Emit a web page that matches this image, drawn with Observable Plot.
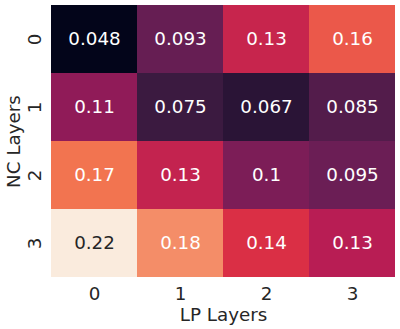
<!DOCTYPE html>
<html>
<head>
<meta charset="utf-8">
<script src="https://cdn.jsdelivr.net/npm/d3@7"></script>
<script src="https://cdn.jsdelivr.net/npm/@observablehq/plot@0.6"></script>
<style>
  html, body { margin: 0; padding: 0; background: #fff; }
</style>
</head>
<body>
<div id="chart"></div>
<script>
const lpLayers = ["0", "1", "2", "3"];
const ncLayers = ["0", "1", "2", "3"];
const row0 = [0.048, 0.093, 0.134, 0.160];
const row1 = [0.110, 0.075, 0.067, 0.085];
const row2 = [0.170, 0.132, 0.102, 0.095];
const row3 = [0.220, 0.180, 0.143, 0.127];
const rows = [row0, row1, row2, row3];

// seaborn "rocket" colormap stops
const rocket = ["#03051a", "#35193e", "#701f57", "#ad1759", "#e13342", "#f37651", "#f6b48f", "#faebdd"];

const data = [];
rows.forEach((r, i) => r.forEach((v, j) => data.push({nc: ncLayers[i], lp: lpLayers[j], v})));
const fmt = d3.format(".2~g");
const ext = d3.extent(data, d => d.v);
const fs = 18.3;

const chart = Plot.plot({
  width: 400,
  height: 329,
  marginLeft: 51,
  marginRight: 5,
  marginTop: 4,
  marginBottom: 51,
  style: {fontFamily: "DejaVu Sans", fontSize: fs + "px", color: "#262626", background: "#fff"},
  x: {domain: lpLayers, padding: 0, label: "LP Layers"},
  y: {domain: ncLayers, padding: 0, label: "NC Layers"},
  color: {type: "linear", domain: ext, interpolate: d3.piecewise(d3.interpolateRgb, rocket)},
  marks: [
    Plot.cell(data, {x: "lp", y: "nc", fill: "v", inset: 0}),
    Plot.text(data, {x: "lp", y: "nc", text: d => fmt(d.v), fill: d => d.v > 0.2 ? "#262626" : "#ffffff", fontSize: fs}),
    Plot.axisX({tickSize: 0, tickPadding: 8, fontSize: fs, label: "LP Layers", labelAnchor: "center", labelArrow: "none", labelOffset: 42}),
    Plot.axisY({tickSize: 0, tickPadding: 16, fontSize: fs, tickRotate: -90, textAnchor: "middle", lineAnchor: "middle", label: "NC Layers", labelAnchor: "center", labelArrow: "none", labelOffset: 45})
  ]
});
document.getElementById("chart").appendChild(chart);
</script>
</body>
</html>
